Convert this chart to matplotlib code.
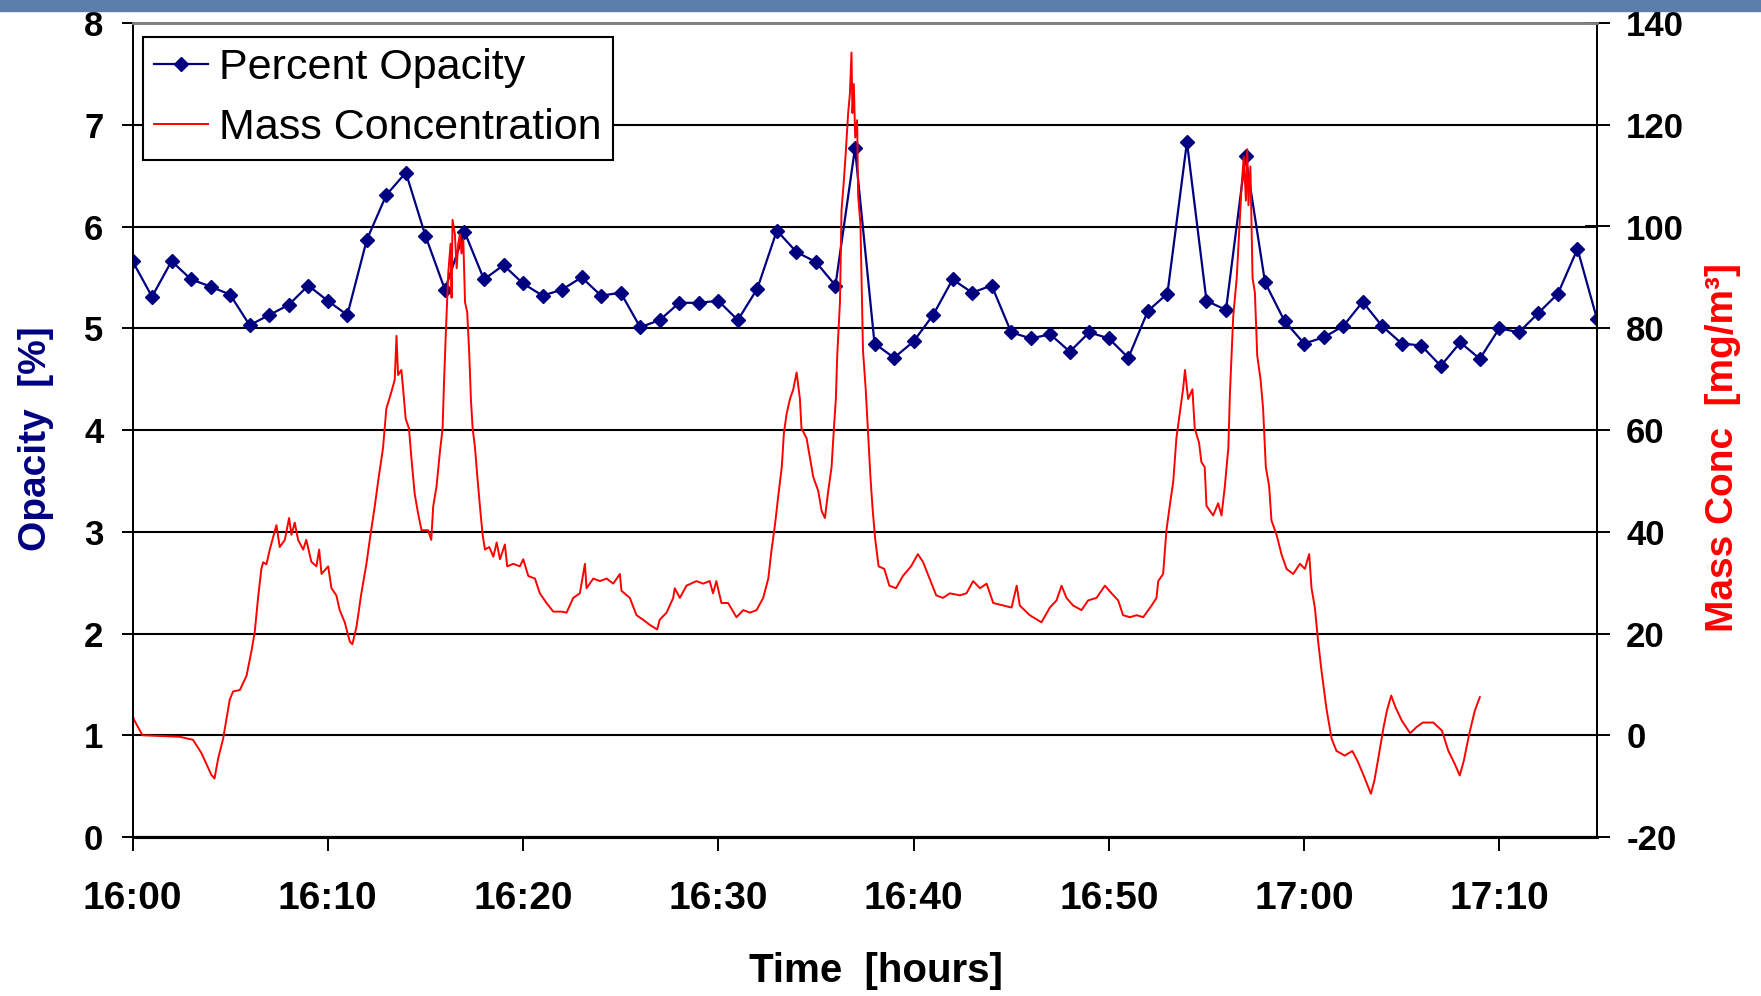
#Opacity vs mass concentration time series, 16:00 - 17:15
#Dual axis chart: opacity (%) on the left, mass conc (mg/m3) on the right

import matplotlib
matplotlib.use('Agg')
import matplotlib.pyplot as plt
from matplotlib.patches import Rectangle

plt.rcParams['font.family'] = ['Liberation Sans', 'DejaVu Sans']
plt.rcParams['axes.unicode_minus'] = False

######## DATA ##################################################################
#minutes after 16:00
opacityMinutes = list(range(0, 77))
opacityPct = [5.66, 5.31, 5.66, 5.48, 5.41, 5.33, 5.03, 5.13, 5.23, 5.42,
              5.27, 5.13, 5.87, 6.31, 6.53, 5.91, 5.38, 5.95, 5.48, 5.62,
              5.44, 5.32, 5.38, 5.50, 5.32, 5.35, 5.01, 5.08, 5.25, 5.25,
              5.27, 5.08, 5.39, 5.96, 5.75, 5.65, 5.42, 6.77, 4.85, 4.71,
              4.87, 5.13, 5.48, 5.35, 5.42, 4.96, 4.90, 4.94, 4.77, 4.96,
              4.90, 4.71, 5.17, 5.34, 6.83, 5.27, 5.18, 6.69, 5.45, 5.07,
              4.85, 4.91, 5.02, 5.26, 5.02, 4.85, 4.83, 4.63, 4.86, 4.70,
              5.00, 4.96, 5.15, 5.34, 5.78, 5.09, 5.70]

concMinutes = [0, 0.07, 0.51, 2.42, 3.1, 3.53, 4.04, 4.2, 4.39, 4.64, 4.98, 5.15,
               5.5, 5.84, 6.09, 6.26, 6.43, 6.6, 6.69, 6.86, 7.03, 7.37, 7.54, 7.8,
               8.02, 8.14, 8.31, 8.48, 8.74, 8.9, 9.16, 9.42, 9.56, 9.68, 10.02,
               10.19, 10.44, 10.61, 10.87, 11.13, 11.26, 11.47, 11.72, 11.98, 12.15,
               12.41, 12.58, 12.83, 13.0, 13.26, 13.43, 13.52, 13.6, 13.77, 13.86,
               13.99, 14.16, 14.28, 14.45, 14.62, 14.8, 15.14, 15.3, 15.4, 15.57,
               15.74, 15.88, 15.95, 16.05, 16.17, 16.29, 16.34, 16.39, 16.51, 16.6,
               16.68, 16.77, 16.85, 16.94, 17.03, 17.14, 17.25, 17.33, 17.42, 17.54,
               17.66, 17.79, 17.93, 18.05, 18.27, 18.48, 18.65, 18.82, 19.07, 19.19,
               19.5, 19.84, 20.01, 20.27, 20.61, 20.86, 21.2, 21.55, 21.97, 22.23,
               22.57, 22.91, 23.17, 23.25, 23.6, 23.94, 24.28, 24.62, 24.96, 25.04,
               25.47, 25.81, 26.15, 26.49, 26.87, 27.0, 27.35, 27.69, 27.77, 28.03,
               28.37, 28.88, 29.22, 29.56, 29.73, 29.9, 30.16, 30.5, 30.93, 31.28,
               31.62, 31.96, 32.3, 32.56, 32.73, 32.9, 33.07, 33.25, 33.36, 33.5,
               33.67, 33.84, 34.01, 34.18, 34.26, 34.52, 34.69, 34.86, 35.12, 35.29,
               35.46, 35.63, 35.8, 35.92, 36.02, 36.09, 36.23, 36.31, 36.43, 36.53,
               36.65, 36.74, 36.82, 36.87, 36.94, 37.01, 37.11, 37.16, 37.28, 37.41,
               37.55, 37.67, 37.79, 37.91, 38.04, 38.21, 38.5, 38.76, 39.1, 39.45,
               39.87, 40.22, 40.48, 40.82, 41.16, 41.5, 41.86, 42.37, 42.71, 43.05,
               43.4, 43.74, 44.08, 44.6, 45.02, 45.28, 45.44, 45.95, 46.55, 46.98,
               47.32, 47.58, 47.83, 48.17, 48.6, 48.94, 49.37, 49.8, 50.14, 50.48,
               50.73, 51.08, 51.42, 51.76, 52.19, 52.44, 52.53, 52.78, 52.95, 53.12,
               53.3, 53.46, 53.63, 53.8, 53.9, 54.06, 54.28, 54.4, 54.62, 54.74,
               54.91, 55.0, 55.34, 55.6, 55.77, 55.94, 56.12, 56.2, 56.37, 56.55,
               56.68, 56.8, 56.91, 57.02, 57.09, 57.15, 57.25, 57.36, 57.48, 57.6,
               57.77, 57.9, 58.04, 58.21, 58.33, 58.59, 58.84, 59.1, 59.44, 59.79,
               60.04, 60.26, 60.38, 60.55, 60.72, 60.89, 61.15, 61.41, 61.66, 61.86,
               62.08, 62.47, 62.73, 63.05, 63.42, 63.6, 63.81, 64.07, 64.24, 64.46,
               64.68, 65.0, 65.43, 65.76, 66.08, 66.62, 67.06, 67.38, 67.71, 67.97,
               68.18, 68.46, 68.74, 69.0]
concMgm3 = [4.0, 3.1, 0.0, -0.3, -0.9, -3.5, -7.8, -8.5, -4.5, -0.7, 7.0, 8.6,
            8.9, 11.7, 16.5, 20.3, 27.0, 32.7, 34.0, 33.6, 36.5, 41.3, 37.0, 38.4,
            42.7, 39.4, 41.8, 38.4, 36.5, 38.4, 34.1, 33.2, 36.5, 31.7, 33.2,
            28.9, 27.5, 24.6, 22.2, 18.4, 17.9, 21.3, 27.9, 33.7, 38.4,
            45.1, 49.9, 56.5, 64.2, 67.5, 69.9, 78.5, 70.8, 71.8, 68.0,
            62.2, 60.3, 54.6, 47.5, 43.7, 40.3, 40.3, 38.4, 45.0, 48.9,
            55.6, 60.3, 68.9, 79.4, 90.8, 96.6, 86.0, 101.3, 98.5, 91.8,
            96.6, 98.5, 94.7, 97.5, 85.1, 83.2, 74.6, 66.1, 60.3, 56.5,
            50.8, 45.1, 39.4, 36.5, 37.0, 35.1, 37.9, 34.6, 37.5, 33.2,
            33.7, 33.2, 34.6, 31.3, 30.8, 27.9, 26.0, 24.3, 24.3, 24.1,
            27.0, 27.9, 33.7, 28.9, 30.8, 30.3, 30.8, 29.8, 31.7, 28.4,
            27.0, 23.6, 22.7, 21.7, 20.8, 22.7, 24.1, 27.0, 28.9, 27.0,
            29.4, 30.3, 29.8, 30.3, 27.9, 30.3, 26.0, 26.0, 23.2, 24.6,
            24.1, 24.6, 27.0, 30.8, 36.5, 41.3, 47.0, 52.7, 59.4, 63.2,
            66.1, 68.0, 71.3, 66.1, 60.3, 58.4, 54.6, 50.8, 48.0, 44.1,
            42.7, 48.0, 52.7, 60.3, 66.1, 74.6, 85.1, 103.2, 109.0, 114.7,
            122.3, 126.1, 134.2, 122.3, 128.0, 117.5, 120.9, 106.1, 100.4, 75.6,
            68.0, 59.4, 50.8, 44.1, 38.4, 33.2, 32.7, 29.4, 28.9, 31.3,
            33.2, 35.6, 34.1, 30.8, 27.5, 27.0, 27.9, 27.5, 27.9, 30.3,
            28.9, 29.8, 26.0, 25.5, 25.1, 29.4, 25.5, 23.6, 22.2, 25.1,
            26.5, 29.4, 27.0, 25.5, 24.6, 26.5, 27.0, 29.4, 27.9, 26.5,
            23.6, 23.2, 23.6, 23.2, 25.5, 27.0, 30.3, 31.7, 40.3, 45.1,
            49.9, 58.4, 63.2, 68.0, 71.8, 66.1, 68.0, 60.3, 57.5, 53.7,
            52.7, 45.1, 43.2, 45.6, 43.2, 48.9, 56.5, 67.0, 82.3, 89.9,
            99.4, 108.0, 113.7, 105.1, 115.2, 104.2, 111.8, 89.9, 87.0, 74.6,
            69.9, 64.2, 52.7, 48.9, 42.2, 39.4, 35.6, 32.7, 31.7, 33.7,
            32.7, 35.6, 28.9, 25.1, 18.4, 12.7, 5.1, -0.7, -3.1, -3.5,
            -4.0, -3.1, -5.0, -7.9, -11.5, -8.9, -4.3, 1.6, 4.8, 7.8,
            5.5, 2.9, 0.4, 1.6, 2.5, 2.5, 0.9, -3.0, -5.6, -7.9,
            -5.0, 0.3, 4.8, 7.5]

timeTicks = [0, 10, 20, 30, 40, 50, 60, 70]
timeLabels = ['16:00', '16:10', '16:20', '16:30', '16:40', '16:50', '17:00', '17:10']
opacityTicks = [0, 1, 2, 3, 4, 5, 6, 7, 8]
concTicks = [-20, 0, 20, 40, 60, 80, 100, 120, 140]
################################################################################

######## STYLE HELPERS #########################################################
def styleSpines(ax):
    ax.spines['top'].set_color('#808080')
    ax.spines['top'].set_linewidth(2)
    ax.spines['bottom'].set_color('black')
    ax.spines['bottom'].set_linewidth(2.2)
    for side in ['left', 'right']:
        ax.spines[side].set_color('black')
        ax.spines[side].set_linewidth(1.4)
################################################################################

######## PLOT ##################################################################
def plotOpacityAndConc():
    fig = plt.figure(figsize=(17.61, 9.96), dpi=100)
    #blue band along the top of the slide
    fig.patches.append(Rectangle((0, 1 - 11/996.), 1, 11/996., transform=fig.transFigure,
                                 color='#5B7FAA', zorder=0))
    ax1 = fig.add_axes([132.5/1761., 1 - 837/996., 1464.5/1761., 814/996.])
    ax2 = ax1.twinx()

    lineOp, = ax1.plot(opacityMinutes, opacityPct, color='#000080', lw=1.6,
                       marker='D', markersize=7, label='Percent Opacity')
    lineConc, = ax2.plot(concMinutes, concMgm3, color='#FF0000', lw=1.4,
                         label='Mass Concentration')

    ax1.set_xlim(0, 75)
    ax1.set_ylim(0, 8)
    ax2.set_ylim(-20, 140)
    ax1.set_xticks(timeTicks)
    ax1.set_xticklabels(timeLabels)
    ax1.set_yticks(opacityTicks)
    ax2.set_yticks(concTicks)

    ax1.yaxis.grid(True, color='black', lw=1.5, zorder=0)
    ax1.set_axisbelow(True)

    ax1.tick_params(axis='x', direction='out', length=10, width=1.4, pad=22,
                    labelsize=28)
    ax1.tick_params(axis='y', direction='out', length=8, width=1.4, pad=13,
                    labelsize=25)
    ax2.tick_params(axis='y', direction='inout', length=18, width=1.4, pad=12,
                    labelsize=25)
    for lab in ax1.get_xticklabels() + ax1.get_yticklabels() + ax2.get_yticklabels():
        lab.set_fontweight('bold')

    styleSpines(ax1)
    styleSpines(ax2)

    ax1.set_xlabel('Time  [hours]', fontsize=29, fontweight='bold')
    ax1.set_ylabel('Opacity  [%]', fontsize=28, fontweight='bold', color='#000080')
    ax2.set_ylabel('Mass Conc  [mg/m\u00b3]', fontsize=28, fontweight='bold',
                   color='#FF0000', rotation=90)
    ax1.xaxis.set_label_coords(0.5077, -0.141)
    ax1.yaxis.set_label_coords(-0.0536, 0.489)
    ax2.yaxis.set_label_coords(1.0737, 0.4785)

    leg = ax2.legend([lineOp, lineConc], ['Percent Opacity', 'Mass Concentration'],
                     loc='upper left', bbox_to_anchor=(0.0072, 0.9828), borderaxespad=0,
                     fontsize=31, numpoints=1, handlelength=1.25, handletextpad=0.26,
                     labelspacing=0.47, borderpad=0.26, fancybox=False, framealpha=1)
    leg.get_frame().set_edgecolor('black')
    leg.get_frame().set_linewidth(1.5)

    fig.savefig('out.png', dpi=100)

plotOpacityAndConc()
